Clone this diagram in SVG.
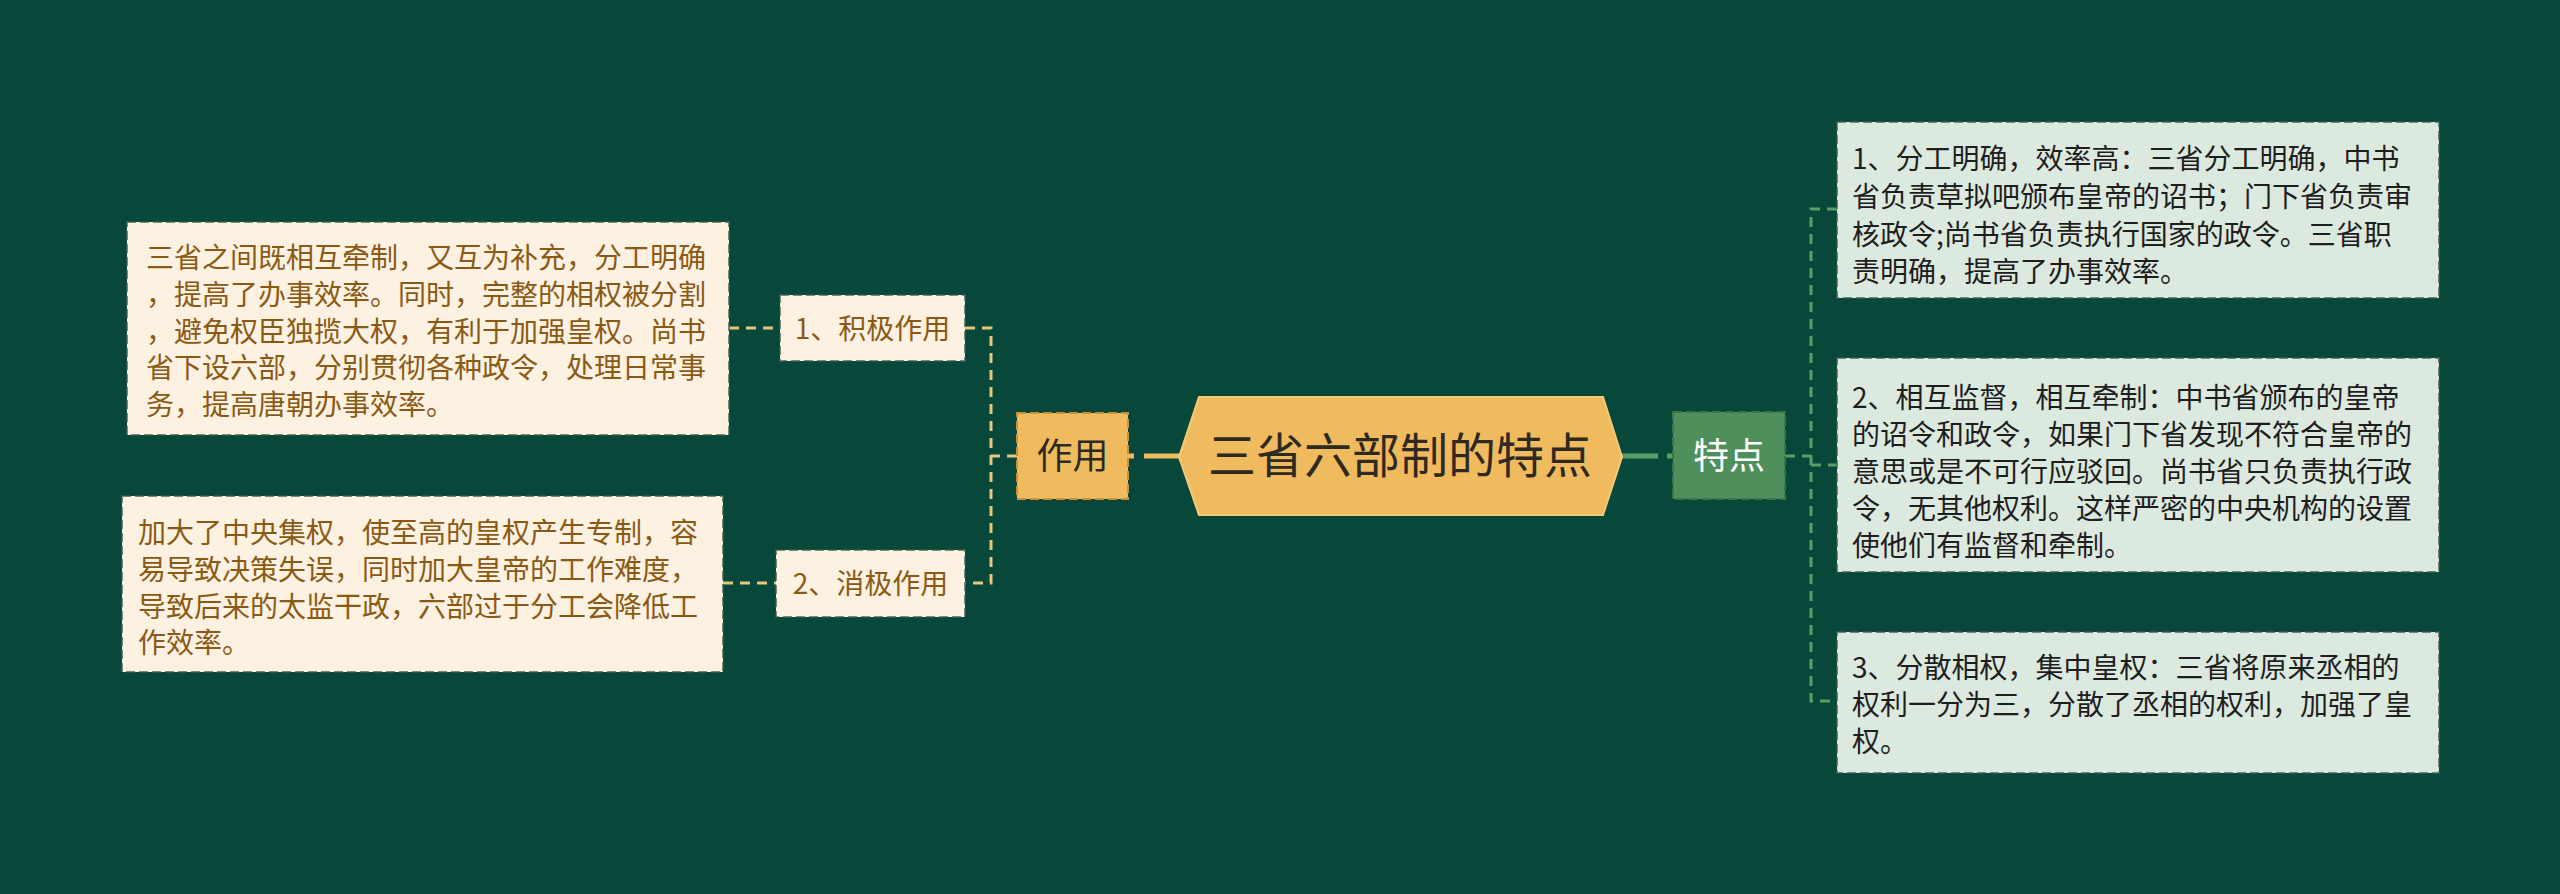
<svg xmlns="http://www.w3.org/2000/svg" width="2560" height="894" viewBox="0 0 2560 894">
<style>
text{font-family:"Noto Sans CJK SC","Noto Sans",sans-serif}
.cream{fill:#FDF1E1;stroke:#3d5a4c;stroke-width:2;stroke-dasharray:9 4;stroke-opacity:.7}
.mint{fill:#DCE9DF;stroke:#3d5a4c;stroke-width:2;stroke-dasharray:9 4;stroke-opacity:.7}
.brown{fill:#8A5A14;font-size:28px}
.dark{fill:#1E1E1E;font-size:28px}
.yl{fill:none;stroke:#E6C77D;stroke-width:3;stroke-dasharray:10 7}
.gl{fill:none;stroke:#5A9E67;stroke-width:3;stroke-dasharray:10 7}
</style>
<rect x="0" y="0" width="2560" height="894" fill="#07483A"/>
<g id="connectors">
<line x1="1128" y1="456" x2="1180" y2="456" stroke="#F0BB5F" stroke-width="5" stroke-dasharray="6 10 40"/>
<path class="yl" d="M1017 456 H991"/>
<path class="yl" d="M965 328 H991 V583 H965"/>
<path class="yl" d="M729 328 H780"/>
<path class="yl" d="M723 583 H776"/>
<line x1="1621" y1="456" x2="1673" y2="456" stroke="#5A9E67" stroke-width="5" stroke-dasharray="37 9 10"/>
<path class="gl" d="M1785 456 H1811"/>
<path class="gl" d="M1837 209 H1811 V701 H1837"/>
<path class="gl" d="M1811 465 H1837"/>
</g>
<g id="root">
<polygon points="1179,457 1199,397 1603,397 1622,457 1603,515 1199,515" fill="#F0BB5F" stroke="#F5C877" stroke-width="2"/>
<text x="1400" y="452" text-anchor="middle" dominant-baseline="central" font-size="48" fill="#2E2A22">三省六部制的特点</text>
</g>
<g id="zuoyong">
<rect x="1017" y="413" width="111" height="86" fill="#F0BB5F" stroke="#C8913A" stroke-width="2" stroke-dasharray="9 4"/>
<text x="1072.5" y="453" text-anchor="middle" dominant-baseline="central" font-size="36" fill="#2E2A22">作用</text>
</g>
<g id="tedian">
<rect x="1673" y="412" width="112" height="87" fill="#4F8F5B" stroke="#3B7447" stroke-width="2" stroke-dasharray="9 4"/>
<text x="1729" y="453" text-anchor="middle" dominant-baseline="central" font-size="36" fill="#FFFFFF">特点</text>
</g>
<g id="jiji">
<rect class="cream" x="780" y="295" width="185" height="66"/>
<text class="brown" x="872.5" y="327" text-anchor="middle" dominant-baseline="central">1、积极作用</text>
</g>
<g id="xiaoji">
<rect class="cream" x="776" y="550" width="189" height="67"/>
<text class="brown" x="870.5" y="582" text-anchor="middle" dominant-baseline="central">2、消极作用</text>
</g>
<g id="jiji-detail">
<rect class="cream" x="127" y="222" width="602" height="213"/>
<text class="brown" dominant-baseline="central">
<tspan x="146" y="256">三省之间既相互牵制，又互为补充，分工明确</tspan>
<tspan x="146" y="293">，提高了办事效率。同时，完整的相权被分割</tspan>
<tspan x="146" y="330">，避免权臣独揽大权，有利于加强皇权。尚书</tspan>
<tspan x="146" y="366">省下设六部，分别贯彻各种政令，处理日常事</tspan>
<tspan x="146" y="403">务，提高唐朝办事效率。</tspan>
</text>
</g>
<g id="xiaoji-detail">
<rect class="cream" x="122" y="496" width="601" height="176"/>
<text class="brown" dominant-baseline="central">
<tspan x="138" y="531">加大了中央集权，使至高的皇权产生专制，容</tspan>
<tspan x="138" y="568">易导致决策失误，同时加大皇帝的工作难度，</tspan>
<tspan x="138" y="605">导致后来的太监干政，六部过于分工会降低工</tspan>
<tspan x="138" y="641">作效率。</tspan>
</text>
</g>
<g id="tedian-1">
<rect class="mint" x="1837" y="122" width="602" height="176"/>
<text class="dark" dominant-baseline="central">
<tspan x="1852" y="157">1、分工明确，效率高：三省分工明确，中书</tspan>
<tspan x="1852" y="195">省负责草拟吧颁布皇帝的诏书；门下省负责审</tspan>
<tspan x="1852" y="233">核政令;尚书省负责执行国家的政令。三省职</tspan>
<tspan x="1852" y="270">责明确，提高了办事效率。</tspan>
</text>
</g>
<g id="tedian-2">
<rect class="mint" x="1837" y="358" width="602" height="214"/>
<text class="dark" dominant-baseline="central">
<tspan x="1852" y="396">2、相互监督，相互牵制：中书省颁布的皇帝</tspan>
<tspan x="1852" y="433">的诏令和政令，如果门下省发现不符合皇帝的</tspan>
<tspan x="1852" y="470">意思或是不可行应驳回。尚书省只负责执行政</tspan>
<tspan x="1852" y="507">令，无其他权利。这样严密的中央机构的设置</tspan>
<tspan x="1852" y="544">使他们有监督和牵制。</tspan>
</text>
</g>
<g id="tedian-3">
<rect class="mint" x="1837" y="632" width="602" height="141"/>
<text class="dark" dominant-baseline="central">
<tspan x="1852" y="666">3、分散相权，集中皇权：三省将原来丞相的</tspan>
<tspan x="1852" y="703">权利一分为三，分散了丞相的权利，加强了皇</tspan>
<tspan x="1852" y="740">权。</tspan>
</text>
</g>
</svg>
